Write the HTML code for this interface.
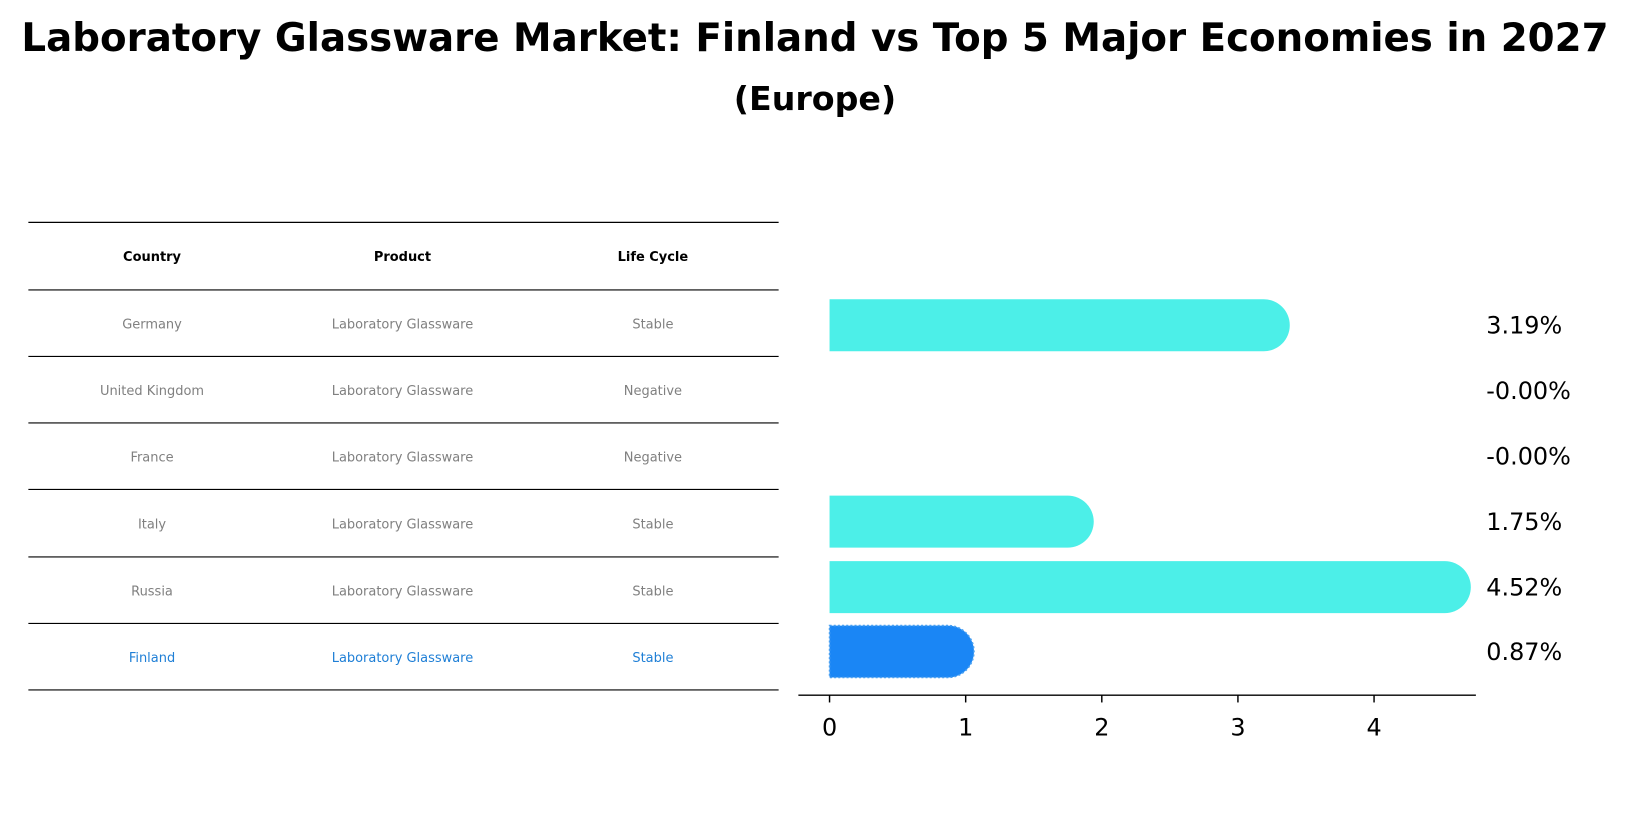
<!DOCTYPE html>
<html><head><meta charset="utf-8"><style>
body{margin:0;background:#fff;font-family:"Liberation Sans","DejaVu Sans",sans-serif;}
svg{display:block}
</style></head><body>
<svg width="1630" height="823" viewBox="0 0 1568 792">
<text x="784" y="49" text-anchor="middle" font-size="37.3" font-weight="bold" font-family="DejaVu Sans, sans-serif">Laboratory Glassware Market: Finland vs Top 5 Major Economies in 2027</text>
<text x="784" y="106" text-anchor="middle" font-size="32" font-weight="bold" font-family="DejaVu Sans, sans-serif">(Europe)</text>
<g id="table"></g>
<g id="bars"></g>
</svg>
<script>
const countries=["Germany","United Kingdom","France","Italy","Russia","Finland"];
const products=["Laboratory Glassware","Laboratory Glassware","Laboratory Glassware","Laboratory Glassware","Laboratory Glassware","Laboratory Glassware"];
const lifeCycles=["Stable","Negative","Negative","Stable","Stable","Stable"];
const growth=[3.19,-0.00,-0.00,1.75,4.52,0.87];
const valueLabels=["3.19%","-0.00%","-0.00%","1.75%","4.52%","0.87%"];
const xTicks=[0,1,2,3,4];
const NS="http://www.w3.org/2000/svg";
function mk(tag,attrs,parent){const e=document.createElementNS(NS,tag);for(const k in attrs)e.setAttribute(k,attrs[k]);parent.appendChild(e);return e;}
const tbl=document.getElementById('table');
const rowY=[214,279,343,407,471,536,600,664];
rowY.forEach((y,i)=>{const l=mk('line',{x1:27,x2:749,y1:y,y2:y,stroke:'#000','stroke-width':1.1},tbl);

});
const colX=[146,387,628];
["Country","Product","Life Cycle"].forEach((h,i)=>{const t=mk('text',{x:colX[i],y:251,'text-anchor':'middle','font-size':12.5,'font-weight':'bold','font-family':'DejaVu Sans, sans-serif'},tbl);t.textContent=h;

});
countries.forEach((c,r)=>{const y=(rowY[r+1]+rowY[r+2])/2+5;const fin=c==="Finland";const col=fin?'#1f7fd6':'#808080';
[c,products[r],lifeCycles[r]].forEach((v,i)=>{const t=mk('text',{x:colX[i],y:y,'text-anchor':'middle','font-size':12.5,fill:col,'font-family':'DejaVu Sans, sans-serif'},tbl);t.textContent=v;

});});
const g=document.getElementById('bars');
const x0=798,unit=131;const xs=v=>x0+v*unit;
const centers=[313,376,439,502,565,627];const bh=50;
growth.forEach((v,i)=>{const fin=countries[i]==="Finland";const col=fin?'#1a86f5':'#4cefe8';
if(v>0){const w=xs(v)-x0;const cy=centers[i];
const p=mk('path',{d:`M${x0},${cy-bh/2} H${x0+w} A${bh/2},${bh/2} 0 0 1 ${x0+w},${cy+bh/2} H${x0} Z`,fill:col},g);
if(fin){p.setAttribute('stroke','#4aa0f0');p.setAttribute('stroke-dasharray','2,2');p.setAttribute('stroke-width','1.5');}

}
const t=mk('text',{x:1430,y:centers[i]+8,'font-size':23,'font-family':'DejaVu Sans, sans-serif'},g);t.textContent=valueLabels[i];

});
const ax=mk('line',{x1:768,x2:1420,y1:669,y2:669,stroke:'#000','stroke-width':1.4},g);


xTicks.forEach(v=>{const tk=mk('line',{x1:xs(v),x2:xs(v),y1:669,y2:676,stroke:'#000','stroke-width':1.4},g);


const t=mk('text',{x:xs(v),y:708,'text-anchor':'middle','font-size':23,'font-family':'DejaVu Sans, sans-serif'},g);t.textContent=v;

});
</script>
</body></html>
